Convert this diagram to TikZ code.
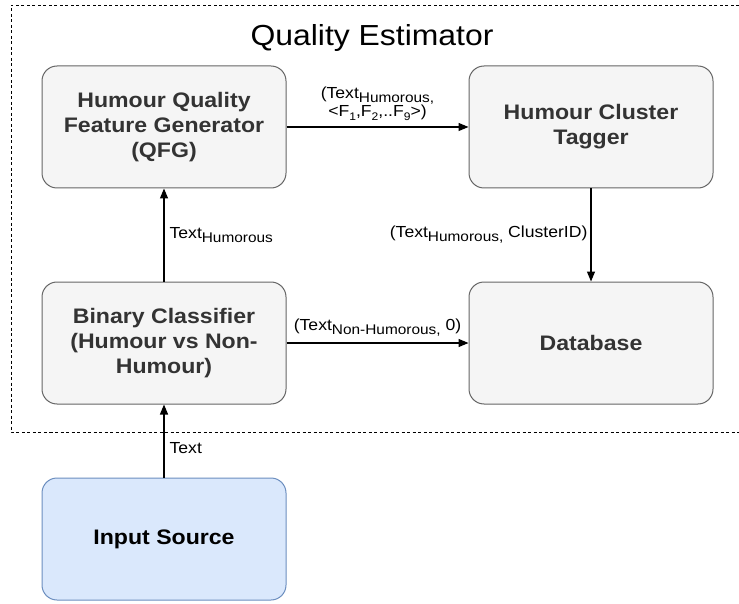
\documentclass[tikz,border=0pt]{standalone}
\usepackage{fontspec}
\setmainfont{Liberation Sans}[FakeStretch=1.1]
\usetikzlibrary{arrows.meta}
\definecolor{boxfill}{HTML}{F5F5F5}
\definecolor{boxline}{HTML}{666666}
\definecolor{boxtext}{HTML}{333333}
\definecolor{bluefill}{HTML}{DAE8FC}
\definecolor{blueline}{HTML}{6C8EBF}
\newcommand{\sbt}[1]{\raisebox{-4pt}{\fontsize{14}{14}\selectfont #1}}
\newcommand{\sbn}[1]{\raisebox{-3.5pt}{\fontsize{11}{11}\selectfont #1}}
\tikzset{
  procbox/.style={draw=boxline, fill=boxfill, rounded corners=15pt, line width=1pt,
    minimum width=244pt, minimum height=122pt, inner sep=0pt, align=center,
    text=boxtext, font=\fontsize{21}{25}\selectfont\bfseries},
  srcbox/.style={procbox, draw=blueline, fill=bluefill, text=black},
  conn/.style={draw=black, line width=1.2pt, -{Triangle[length=10pt,width=8pt]}},
  lbl/.style={font=\fontsize{16}{19}\selectfont, text=black, inner sep=2pt}
}
\begin{document}
\begin{tikzpicture}[x=1pt,y=-1pt]
\useasboundingbox (0,0) rectangle (739,604);
\draw[black, line width=0.9pt, dash pattern=on 3pt off 2.5pt] (739,5) -- (11,5) -- (11,432) -- (739,432);
\node[font=\fontsize{29}{33}\selectfont] (title) at (372,38) {Quality Estimator};
\node[procbox] (qfg) at (164,127) {Humour Quality\\Feature Generator\\(QFG)};
\node[procbox] (tag) at (591,127) {Humour Cluster\\Tagger};
\node[procbox] (bin) at (164,343) {Binary Classifier\\(Humour vs Non-\\Humour)};
\node[procbox] (db) at (591,343) {Database};
\node[srcbox] (src) at (164,539) {Input Source};
\draw[conn] (bin.north) -- node[lbl, right, xshift=3pt] {Text\sbt{Humorous}} (qfg.south);
\draw[conn] (qfg.east) -- node[lbl, above, align=center, yshift=4pt] {(Text\sbt{Humorous,}\\[-1pt]<F\sbn{1},F\sbn{2},..F\sbn{9}>)} (tag.west);
\draw[conn] (tag.south) -- node[lbl, left, xshift=-1pt] {(Text\sbt{Humorous,} ClusterID)} (db.north);
\draw[conn] (bin.east) -- node[lbl, above, yshift=4pt] {(Text\sbt{Non-Humorous,} 0)} (db.west);
\draw[conn] (src.north) -- node[lbl, right, xshift=3pt, pos=0.4] {Text} (bin.south);
\end{tikzpicture}
\end{document}
